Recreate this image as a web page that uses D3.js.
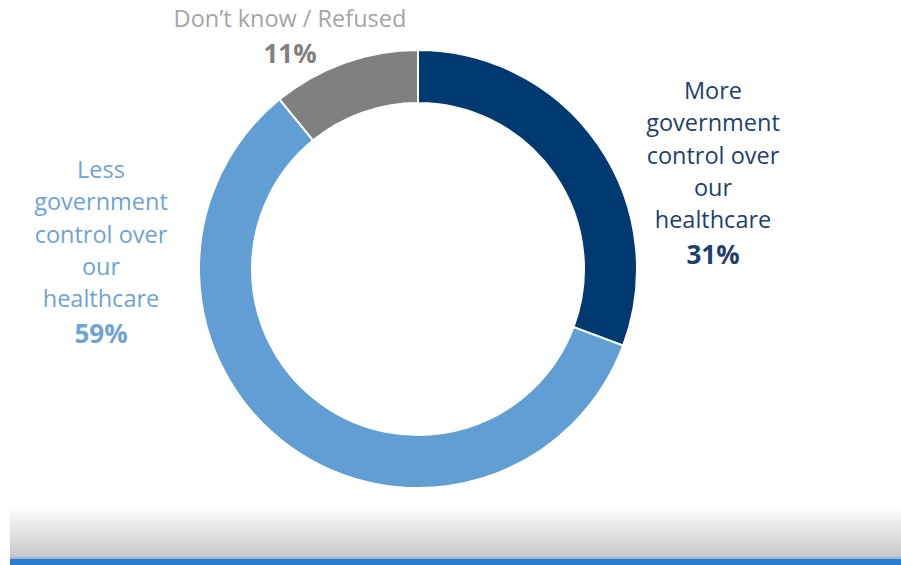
<!DOCTYPE html>
<html><head><meta charset="utf-8">
<script src="https://cdn.jsdelivr.net/npm/d3@7"></script>
<style>body{margin:0;background:#fff;}svg{display:block;}</style>
</head><body>
<svg id="c" width="901" height="565"></svg>
<script>
const categories = ["More government control over our healthcare", "Less government control over our healthcare", "Don\u2019t know / Refused"];
const values = [31, 59, 11];
const labelLines = [
  ["More", "government", "control over", "our", "healthcare"],
  ["Less", "government", "control over", "our", "healthcare"],
  ["Don\u2019t know / Refused"]
];
const colors = ["#003A70", "#609ED3", "#808080"];
const labelColors = ["#1F3F6E", "#6FA3D6", "#A5A5A5"];
const pctColors = ["#1F3F6E", "#6FA3D6", "#808080"];

const svg = d3.select("#c");
const W = 901, H = 565;
const cx = 418, cy = 269, R = 219, r = 166;

// bottom gradient band
const defs = svg.append("defs");
const g1 = defs.append("linearGradient").attr("id", "band").attr("x1", 0).attr("y1", 0).attr("x2", 0).attr("y2", 1);
g1.append("stop").attr("offset", "0%").attr("stop-color", "#ffffff");
g1.append("stop").attr("offset", "100%").attr("stop-color", "#c6c6c6");
svg.append("rect").attr("x", 10).attr("y", 507).attr("width", W - 10).attr("height", 50).attr("fill", "url(#band)");
svg.append("rect").attr("x", 10).attr("y", 557).attr("width", W - 10).attr("height", 2).attr("fill", "#9fb8d8");
svg.append("rect").attr("x", 10).attr("y", 559).attr("width", W - 10).attr("height", 6).attr("fill", "#2B7BD0");

const pie = d3.pie().sort(null).value(d => d);
const arc = d3.arc().innerRadius(r).outerRadius(R);
const g = svg.append("g").attr("transform", `translate(${cx},${cy})`);
g.selectAll("path").data(pie(values)).join("path")
  .attr("d", arc)
  .attr("fill", (d, i) => colors[i])
  .attr("stroke", "#fff").attr("stroke-width", 2);

const font = "'Open Sans', sans-serif";
const labelPos = [[713, 99], [101, 178], [290, 27]];
const lh = 32.3;
labelLines.forEach((lines, i) => {
  const [x, y] = labelPos[i];
  const t = svg.append("text").attr("x", x).attr("y", y).attr("text-anchor", "middle")
    .attr("font-family", font).attr("font-size", 23.5).attr("fill", labelColors[i]);
  lines.forEach((ln, k) => {
    t.append("tspan").attr("x", x).attr("y", y + k * lh).text(ln);
  });
  t.append("tspan").attr("x", x).attr("y", y + (lines.length - 1) * lh + 35.5)
    .attr("font-weight", "bold").attr("font-size", 26).attr("fill", pctColors[i]).text(values[i] + "%");
});
</script>
</body></html>
